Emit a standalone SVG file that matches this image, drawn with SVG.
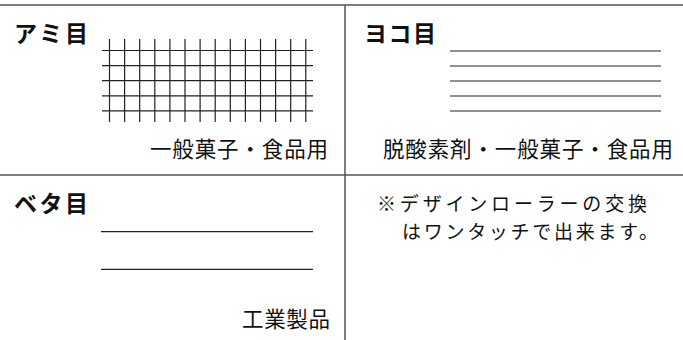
<svg xmlns="http://www.w3.org/2000/svg" width="683" height="340" viewBox="0 0 683 340">
<style>
.frame{stroke:#555;stroke-width:1.5;fill:none}
.ln{stroke:#222;stroke-width:1.2;fill:none}
.h{font-family:"Noto Sans CJK JP","Noto Sans",sans-serif;font-weight:bold;font-size:23px;fill:#111}
.t{font-family:"Noto Sans CJK JP","Noto Sans",sans-serif;font-size:21.5px;fill:#111}
.n{font-family:"Noto Sans CJK JP","Noto Sans",sans-serif;font-size:19px;fill:#111}
</style>
<rect width="683" height="340" fill="#fff"/>
<g id="frame">
<line class="frame" x1="0" y1="5" x2="683" y2="5"/>
<line class="frame" x1="0" y1="175" x2="683" y2="175"/>
<line class="frame" x1="345" y1="5" x2="345" y2="340"/>
</g>
<g id="ami">
<text class="h" x="14" y="42" textLength="74" lengthAdjust="spacing">アミ目</text>
<g class="ln">
<path d="M102 50.5H313M102 65.6H313M102 80.7H313M102 95.8H313M102 110.9H313"/>
<path d="M109.5 39V122M124.6 39V122M139.7 39V122M154.8 39V122M169.9 39V122M185 39V122M200.1 39V122M215.2 39V122M230.3 39V122M245.4 39V122M260.5 39V122M275.6 39V122M290.7 39V122M305.8 39V122"/>
</g>
<text class="t" x="150" y="157" textLength="178" lengthAdjust="spacing">一般菓子・食品用</text>
</g>
<g id="yoko">
<text class="h" x="364" y="42" textLength="72" lengthAdjust="spacing">ヨコ目</text>
<path class="ln" d="M450 51H661M450 66H661M450 81H661M450 96H661M450 111H661"/>
<text class="t" x="383" y="157" textLength="290" lengthAdjust="spacing">脱酸素剤・一般菓子・食品用</text>
</g>
<g id="beta">
<text class="h" x="14" y="212" textLength="74" lengthAdjust="spacing">ベタ目</text>
<path class="ln" d="M101 231.7H313M101 269.3H313"/>
<text class="t" x="242" y="327" textLength="88" lengthAdjust="spacing">工業製品</text>
</g>
<g id="note">
<text class="n" x="377" y="211" textLength="270" lengthAdjust="spacing">※デザインローラーの交換</text>
<text class="n" x="402" y="239" textLength="256" lengthAdjust="spacing">はワンタッチで出来ます。</text>
</g>
</svg>
